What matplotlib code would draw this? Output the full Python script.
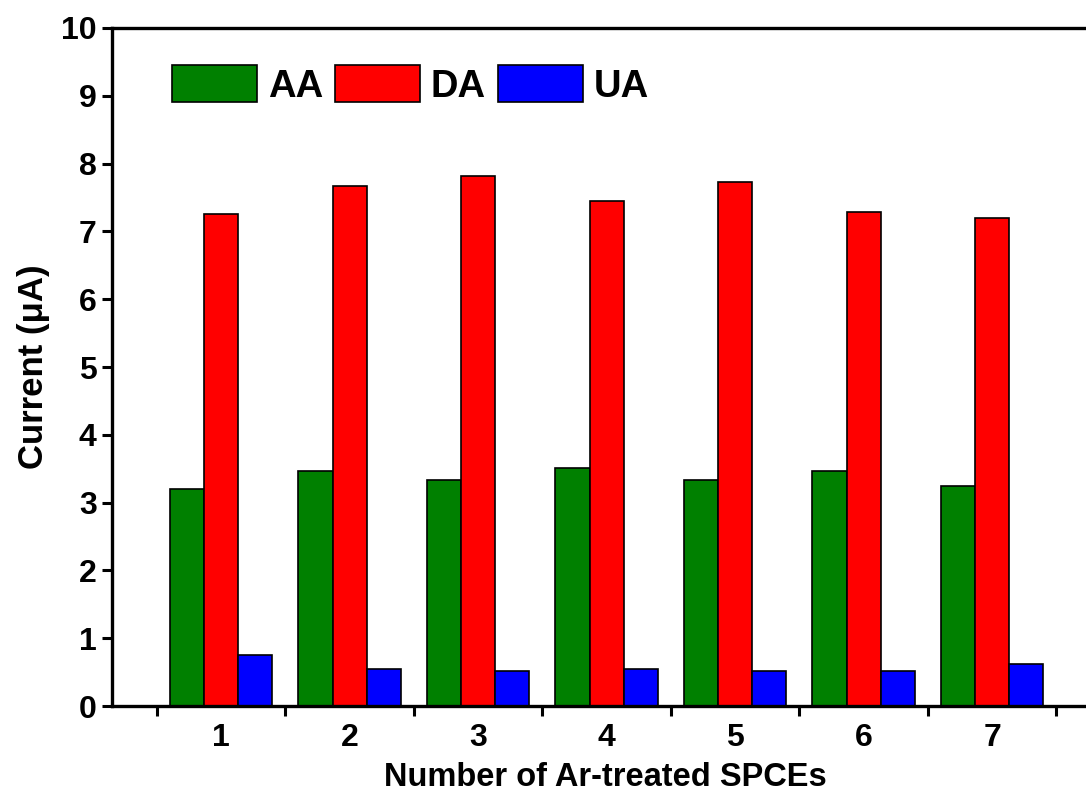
import numpy as np
import matplotlib.pyplot as plt

plt.rcParams['font.family'] = ['Liberation Sans', 'DejaVu Sans']
plt.rcParams['font.weight'] = 'bold'

# peak currents for each electrode (uA)
electrodes = [1, 2, 3, 4, 5, 6, 7]
aa = [3.20, 3.47, 3.33, 3.51, 3.33, 3.46, 3.24]
da = [7.25, 7.67, 7.81, 7.45, 7.73, 7.28, 7.20]
ua = [0.75, 0.55, 0.52, 0.54, 0.52, 0.52, 0.62]

fig = plt.figure(figsize=(10.86, 7.95), dpi=100)
ax = fig.add_axes([0.1031, 0.1119, 0.8969, 0.8529])

x = np.array(electrodes)
w = 0.266
ax.bar(x - w, aa, w, color='#008000', edgecolor='black', linewidth=1.2, label='AA')
ax.bar(x, da, w, color='#FF0000', edgecolor='black', linewidth=1.2, label='DA')
ax.bar(x + w, ua, w, color='#0000FF', edgecolor='black', linewidth=1.2, label='UA')

ax.set_xlim(0.15, 7.73)
ax.set_ylim(0, 10)

# group labels in the middle, tick marks between groups
ax.set_xticks(np.arange(0.5, 8, 1.0))
ax.set_xticklabels([])
ax.set_xticks(x, minor=True)
ax.set_xticklabels([str(e) for e in electrodes], minor=True)
ax.tick_params(axis='x', which='major', direction='out', length=7, width=2.2)
ax.tick_params(axis='x', which='minor', length=0, pad=12, labelsize=23)
ax.set_yticks(range(0, 11))
ax.tick_params(axis='y', direction='out', length=7, width=2.2, labelsize=23, pad=4)

for side in ['left', 'bottom', 'top']:
    ax.spines[side].set_linewidth(2.4)
ax.spines['right'].set_visible(False)

ax.set_xlabel('Number of Ar-treated SPCEs', fontsize=23.5, fontweight='bold')
ax.xaxis.set_label_coords(0.507, -0.083)
ax.set_ylabel('Current (μA)', fontsize=25, fontweight='bold', labelpad=8)

ax.legend(ncol=3, loc='upper left', bbox_to_anchor=(0.0616, 0.945),
          frameon=False, fontsize=27.5, handlelength=2.22, handleheight=1.1,
          handletextpad=0.29, columnspacing=0.31, borderpad=0, borderaxespad=0)

fig.savefig('out.png', dpi=100)
